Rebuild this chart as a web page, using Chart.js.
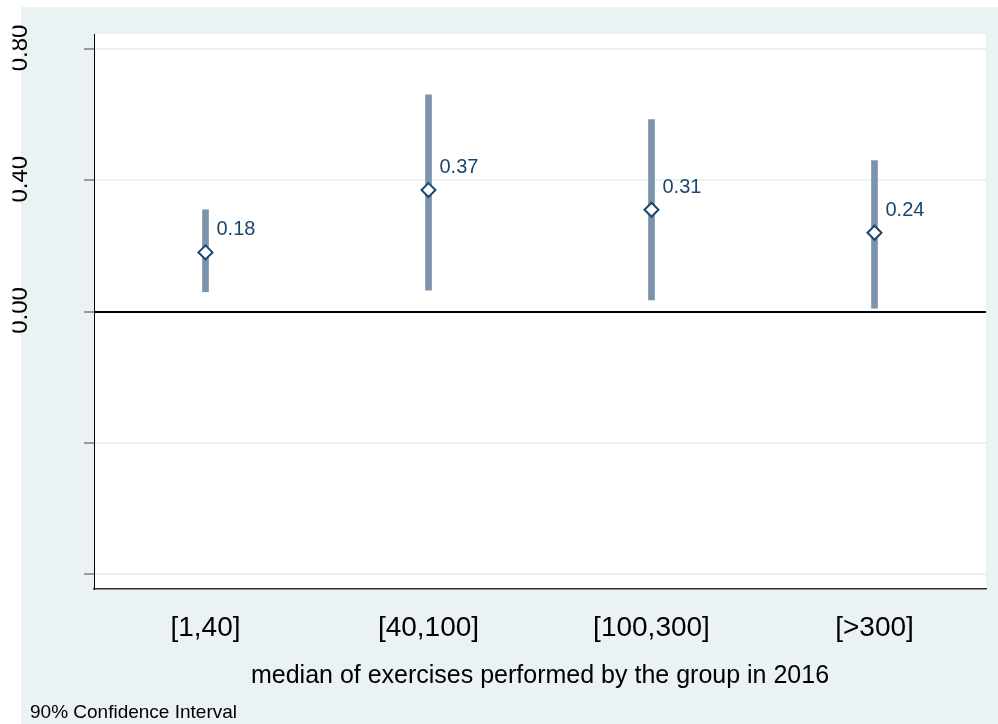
<!DOCTYPE html>
<html>
<head>
<meta charset="utf-8">
<script src="https://cdn.jsdelivr.net/npm/chart.js@4/dist/chart.umd.min.js"></script>
<style>
  html, body { margin: 0; padding: 0; background: #ffffff; }
  canvas { display: block; }
</style>
</head>
<body>
<canvas id="c" width="998" height="724"></canvas>
<script>
// ---- data ----
const categories = ['[1,40]', '[40,100]', '[100,300]', '[>300]'];
const estimates = [0.18, 0.37, 0.31, 0.24];
const ciLow = [0.06, 0.065, 0.035, 0.01];
const ciHigh = [0.31, 0.66, 0.585, 0.46];
const yTickValues = [-0.8, -0.4, 0, 0.4, 0.8];
const yTickLabels = ['', '', '0.00', '0.40', '0.80'];
const xTitle = 'median of exercises performed by the group in 2016';
const footNote = '90% Confidence Interval';

const FONT = '"Liberation Sans", Arial, Helvetica, sans-serif';
const NAVY = '#1a476f';
const BG = '#eaf2f3';

const ciPairs = ciLow.map((lo, i) => [lo, ciHigh[i]]);

const decor = {
  id: 'decor',
  beforeDraw(chart) {
    const ctx = chart.ctx, a = chart.chartArea;
    ctx.save();
    ctx.fillStyle = '#ffffff';
    ctx.fillRect(0, 0, chart.width, chart.height);
    ctx.fillStyle = BG;
    ctx.fillRect(21, 7, chart.width - 21, chart.height - 7);
    ctx.fillStyle = '#ffffff';
    ctx.fillRect(a.left, a.top, a.right - a.left, a.bottom - a.top);
    ctx.restore();
  },
  afterDatasetsDraw(chart) {
    const ctx = chart.ctx;
    const meta = chart.getDatasetMeta(0);
    ctx.save();
    ctx.font = '20px ' + FONT;
    ctx.fillStyle = NAVY;
    ctx.textAlign = 'left';
    ctx.textBaseline = 'alphabetic';
    meta.data.forEach((pt, i) => {
      ctx.fillText(estimates[i].toFixed(2), pt.x + 11, pt.y - 17);
    });
    ctx.restore();
  },
  afterDraw(chart) {
    const ctx = chart.ctx;
    const ys = chart.scales.y;
    ctx.save();
    ctx.beginPath();
    ctx.rect(12.5, 0, chart.width, chart.height);
    ctx.clip();
    ctx.font = '24px ' + FONT;
    ctx.fillStyle = '#000000';
    ctx.textAlign = 'center';
    ctx.textBaseline = 'alphabetic';
    yTickValues.forEach((v, i) => {
      const lbl = yTickLabels[i];
      if (!lbl) return;
      const py = ys.getPixelForValue(v);
      ctx.save();
      ctx.translate(27, py - 1);
      ctx.rotate(-Math.PI / 2);
      ctx.fillText(lbl, 0, 0);
      ctx.restore();
    });
    ctx.restore();
    ctx.save();
    ctx.font = '19px ' + FONT;
    ctx.fillStyle = '#000000';
    ctx.textAlign = 'left';
    ctx.textBaseline = 'alphabetic';
    ctx.fillText(footNote, 30, 718);
    ctx.restore();
  }
};

new Chart(document.getElementById('c'), {
  type: 'bar',
  data: {
    labels: categories,
    datasets: [
      {
        type: 'line',
        label: 'estimate',
        data: estimates,
        showLine: false,
        pointStyle: 'rectRot',
        pointRadius: 7,
        pointBorderWidth: 2,
        pointBackgroundColor: '#ffffff',
        pointBorderColor: NAVY,
        order: 0
      },
      {
        type: 'bar',
        label: 'CI',
        data: ciPairs,
        backgroundColor: '#7b93ab',
        borderWidth: 0,
        barThickness: 6,
        order: 1
      }
    ]
  },
  options: {
    responsive: false,
    animation: false,
    layout: { padding: { left: 0, top: 34, right: 12, bottom: 0 } },
    plugins: {
      legend: { display: false },
      tooltip: { enabled: false },
      title: { display: false }
    },
    scales: {
      x: {
        offset: true,
        grid: { display: false, drawTicks: false },
        border: { display: true, color: '#333333', width: 1.5 },
        ticks: {
          color: '#000000',
          font: { family: FONT, size: 28 },
          padding: 22,
          maxRotation: 0,
          minRotation: 0
        },
        title: {
          display: true,
          text: xTitle,
          color: '#000000',
          font: { family: FONT, size: 25 },
          padding: { top: 0, bottom: 33 }
        },
        afterFit(scale) { scale.height = 135; }
      },
      y: {
        min: -0.8454,
        max: 0.8454,
        afterBuildTicks(scale) {
          scale.ticks = yTickValues.map(v => ({ value: v }));
        },
        ticks: { display: false },
        grid: {
          drawTicks: true,
          tickLength: 10,
          tickWidth: 1,
          tickColor: '#444444',
          color: ctx => (ctx.tick && ctx.tick.value === 0) ? '#000000' : BG,
          lineWidth: 2
        },
        border: { display: true, color: '#000000', width: 1 },
        afterFit(scale) { scale.width = 94; }
      }
    }
  },
  plugins: [decor]
});
</script>
</body>
</html>
